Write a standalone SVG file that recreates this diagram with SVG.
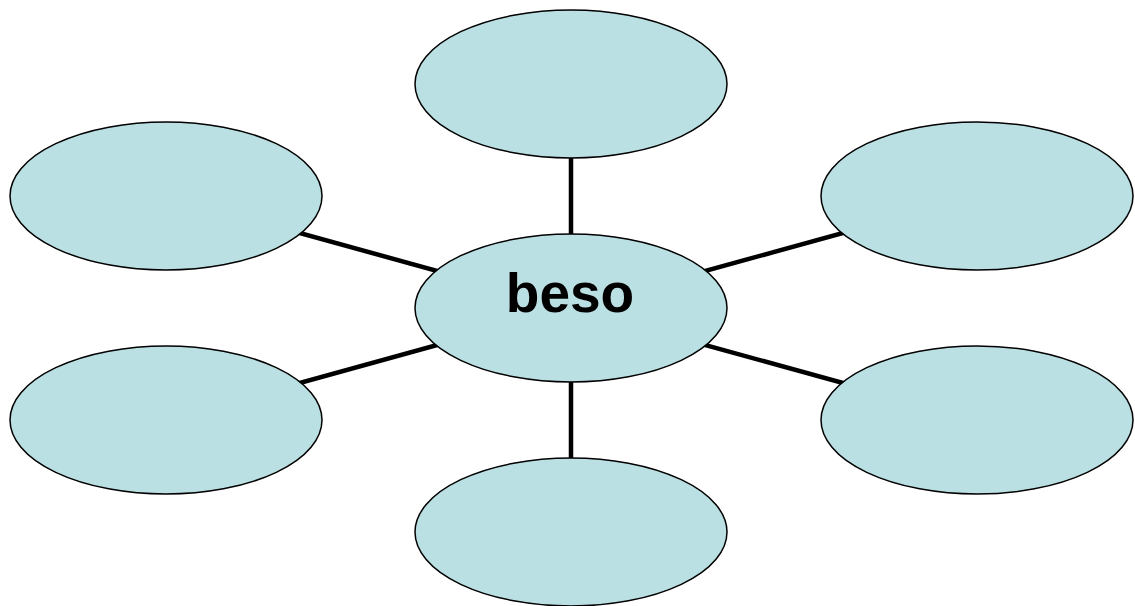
<svg xmlns="http://www.w3.org/2000/svg" width="1135" height="606" viewBox="0 0 1135 606">
<style>
.node{fill:#BBE0E3;stroke:#000;stroke-width:1.5}
.conn{stroke:#000;stroke-width:4.5;fill:none}
.lbl{font-family:"Liberation Sans",Arial,sans-serif;font-weight:bold;font-size:55px;fill:#000;text-anchor:middle}
</style>
<rect width="1135" height="606" fill="#fff"/>
<g id="connectors">
<line class="conn" x1="571" y1="308" x2="571" y2="84"/>
<line class="conn" x1="571" y1="308" x2="571" y2="532"/>
<line class="conn" x1="571" y1="308" x2="166" y2="196"/>
<line class="conn" x1="571" y1="308" x2="977" y2="196"/>
<line class="conn" x1="571" y1="308" x2="166" y2="420"/>
<line class="conn" x1="571" y1="308" x2="977" y2="420"/>
</g>
<g id="node-top"><ellipse class="node" cx="571" cy="84" rx="156" ry="74"/></g>
<g id="node-left-top"><ellipse class="node" cx="166" cy="196" rx="156" ry="74"/></g>
<g id="node-right-top"><ellipse class="node" cx="977" cy="196" rx="156" ry="74"/></g>
<g id="node-left-bottom"><ellipse class="node" cx="166" cy="420" rx="156" ry="74"/></g>
<g id="node-right-bottom"><ellipse class="node" cx="977" cy="420" rx="156" ry="74"/></g>
<g id="node-bottom"><ellipse class="node" cx="571" cy="532" rx="156" ry="74"/></g>
<g id="node-center"><ellipse class="node" cx="571" cy="308" rx="156" ry="74"/><text class="lbl" x="570" y="312">beso</text></g>
</svg>
